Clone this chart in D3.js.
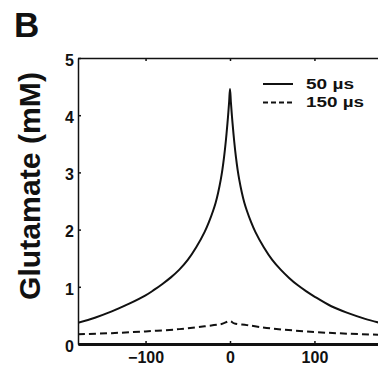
<!DOCTYPE html>
<html>
<head>
<meta charset="utf-8">
<script src="https://cdn.jsdelivr.net/npm/d3@7"></script>
<style>
  body { margin: 0; background: #fff; }
  svg { display: block; font-family: "Liberation Sans", Arial, Helvetica, sans-serif; }
</style>
</head>
<body>
<svg width="378" height="371"></svg>
<script>
// distance along the dendrite (x) and glutamate concentration (mM)
var xs50 = [-180, -160, -140, -120, -100, -90, -80, -70, -60, -50, -40, -30, -25, -20, -17, -14, -11, -9, -7, -5, -3, -2, -1, 0,
            1, 2, 3, 5, 7, 9, 11, 14, 17, 20, 25, 30, 40, 50, 60, 70, 80, 90, 100, 120, 140, 160, 180];
var glu50 = [0.37, 0.46, 0.57, 0.70, 0.85, 0.945, 1.05, 1.165, 1.30, 1.47, 1.69, 1.96, 2.13, 2.33, 2.47, 2.65, 2.87, 3.05, 3.27, 3.54, 3.86, 4.04, 4.24, 4.46,
             4.24, 4.04, 3.86, 3.54, 3.27, 3.05, 2.87, 2.65, 2.47, 2.33, 2.13, 1.96, 1.69, 1.47, 1.30, 1.155, 1.03, 0.925, 0.83, 0.66, 0.54, 0.44, 0.36];
var xs150 = [-180, -140, -100, -60, -30, -10, 0, 5, 20, 50, 100, 140, 180];
var glu150 = [0.17, 0.19, 0.22, 0.26, 0.31, 0.35, 0.40, 0.36, 0.33, 0.27, 0.21, 0.18, 0.16];
var xTicks = [-100, 0, 100];
var yTicks = [0, 1, 2, 3, 4, 5];
var legendLabels = ["50 \u00b5s", "150 \u00b5s"];

var svg = d3.select("svg");

var x = d3.scaleLinear().domain([-180, 180]).range([78, 382]);
var y = d3.scaleLinear().domain([0, 5]).range([344, 58]);

svg.append("clipPath").attr("id", "plot")
  .append("rect").attr("x", 78).attr("y", 50).attr("width", 304).attr("height", 300);

var line = d3.line()
  .x(function (d) { return x(d[0]); })
  .y(function (d) { return y(d[1]); })
  .curve(d3.curveCatmullRom.alpha(0.5));

var solid = xs50.map(function (v, i) { return [v, glu50[i]]; });
var dashed = xs150.map(function (v, i) { return [v, glu150[i]]; });

svg.append("path").datum(solid)
  .attr("clip-path", "url(#plot)")
  .attr("d", line)
  .attr("fill", "none").attr("stroke", "#111").attr("stroke-width", 2);

svg.append("path").datum(dashed)
  .attr("clip-path", "url(#plot)")
  .attr("d", line)
  .attr("fill", "none").attr("stroke", "#111").attr("stroke-width", 2)
  .attr("stroke-dasharray", "7,4");

// axes, Matlab style with inward ticks
var yAxis = svg.append("g").attr("transform", "translate(78,0)")
  .call(d3.axisLeft(y).tickValues(yTicks).tickFormat(d3.format("d")).tickSizeInner(-3).tickSizeOuter(0).tickPadding(4));
yAxis.selectAll("text").attr("dy", "0.45em");

var xAxis = svg.append("g").attr("transform", "translate(0,344)")
  .call(d3.axisBottom(x).tickValues(xTicks).tickSizeInner(-3).tickSizeOuter(0).tickPadding(8));

var topAxis = svg.append("g").attr("transform", "translate(0,58)")
  .call(d3.axisTop(x).tickValues(xTicks).tickSizeInner(-3).tickSizeOuter(0).tickFormat(""));

svg.selectAll(".tick text")
  .attr("font-size", 16).attr("font-weight", "bold").attr("fill", "#111")
  .attr("font-family", "Liberation Sans, Arial, sans-serif");
svg.selectAll(".tick line").attr("stroke", "#111").attr("stroke-width", 1.5);
yAxis.select(".domain").attr("stroke", "#111").attr("stroke-width", 1.5);
topAxis.select(".domain").attr("stroke", "#111").attr("stroke-width", 1.5);
xAxis.select(".domain").attr("stroke", "#111").attr("stroke-width", 3);

// y label
svg.append("text")
  .text("Glutamate (mM)")
  .attr("transform", "translate(40,186) rotate(-90)")
  .attr("text-anchor", "middle")
  .attr("font-size", 30).attr("font-weight", "bold").attr("fill", "#111")
  .attr("textLength", 228).attr("lengthAdjust", "spacingAndGlyphs");

// panel letter
svg.append("text")
  .text("B")
  .attr("x", 14).attr("y", 37)
  .attr("font-size", 35).attr("font-weight", "bold").attr("fill", "#111");

// legend
var legend = svg.append("g");
legendLabels.forEach(function (lab, i) {
  var ly = 84 + i * 18.5;
  legend.append("line")
    .attr("x1", 263).attr("x2", 293).attr("y1", ly).attr("y2", ly)
    .attr("stroke", "#111").attr("stroke-width", 2)
    .attr("stroke-dasharray", i === 0 ? null : "5,3");
  legend.append("text")
    .text(lab)
    .attr("x", 306).attr("y", ly + 4.5)
    .attr("font-size", 14).attr("font-weight", "bold").attr("fill", "#111")
    .attr("textLength", i === 0 ? 48 : 58).attr("lengthAdjust", "spacingAndGlyphs");
});
</script>
</body>
</html>
